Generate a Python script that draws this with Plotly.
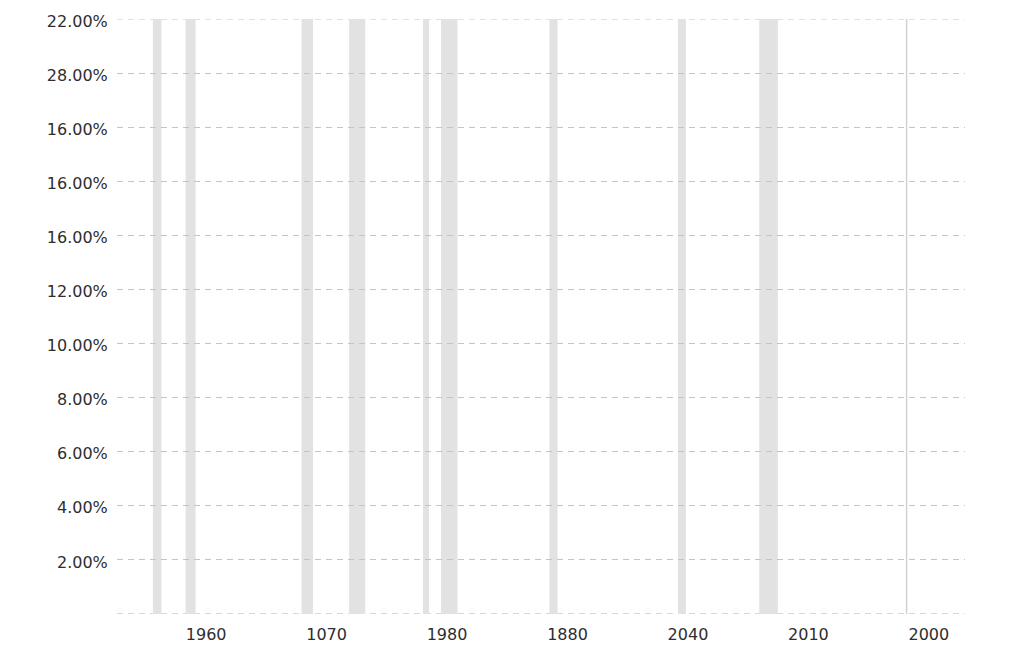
import plotly.graph_objects as go

# Recession periods (start year, end year) as fractional years
recession_start = [1957.58, 1960.29, 1969.92, 1973.87, 1980.00, 1981.50, 1990.50, 2001.17, 2007.92]
recession_end = [1958.29, 1961.12, 1970.87, 1975.21, 1980.50, 1982.87, 1991.17, 2001.83, 2009.46]
# A very short recession drawn as a thin line
short_recession = [2020.15]

# Axis ticks (labels as printed in the reference)
x_tick_vals = [1962, 1972, 1982, 1992, 2002, 2012, 2022]
x_tick_text = ["1960", "1070", "1980", "1880", "2040", "2010", "2000"]
y_tick_vals = [22, 20, 18, 16, 14, 12, 10, 8, 6, 4, 2]
y_tick_text = ["22.00%", "28.00%", "16.00%", "16.00%", "16.00%", "12.00%",
               "10.00%", "8.00%", "6.00%", "4.00%", "2.00%"]
y_min, y_max = 0, 22

fig = go.Figure()
fig.add_trace(go.Scatter(x=[], y=[], mode="lines", showlegend=False))

for s, e in zip(recession_start, recession_end):
    fig.add_shape(type="rect", xref="x", yref="y", x0=s, x1=e, y0=y_min, y1=y_max,
                  fillcolor="#e2e2e2", line_width=0, layer="below")
for s in short_recession:
    fig.add_shape(type="line", xref="x", yref="y", x0=s, x1=s, y0=y_min, y1=y_max,
                  line=dict(color="#d2d2d2", width=1.5), layer="below")

# dashed baseline and top line (edges of the grid)
fig.add_shape(type="line", xref="paper", yref="y", x0=0, x1=1, y0=y_min, y1=y_min,
              line=dict(color="#b0b0b0", width=1, dash="6px,5px"), layer="between")
fig.add_shape(type="line", xref="paper", yref="y", x0=0, x1=1, y0=y_max, y1=y_max,
              line=dict(color="#c4c4c4", width=1, dash="6px,5px"), layer="between")

font = dict(family="DejaVu Sans", size=16, color="#2e2e2e")

# page body has an 8px margin, so the figure is sized/offset to compensate
fig.update_layout(
    width=1016, height=638,
    margin=dict(l=109, r=59, t=11, b=32),
    paper_bgcolor="white", plot_bgcolor="white",
    showlegend=False,
    font=font,
    xaxis=dict(range=[1954.6, 2025.0], tickvals=x_tick_vals, ticktext=x_tick_text,
               showgrid=False, zeroline=False, showline=False, automargin=False,
               ticks="outside", ticklen=6, tickcolor="rgba(0,0,0,0)",
               tickfont=font),
    yaxis=dict(range=[y_min, y_max], tickvals=y_tick_vals, ticktext=y_tick_text,
               showgrid=True, gridcolor="#c4c4c4", gridwidth=1, griddash="6px,5px",
               zeroline=False, showline=False, automargin=False,
               ticks="outside", ticklen=5, tickcolor="rgba(0,0,0,0)",
               ticklabelshift=2,
               tickfont=font),
)

fig.write_html("out.html")
